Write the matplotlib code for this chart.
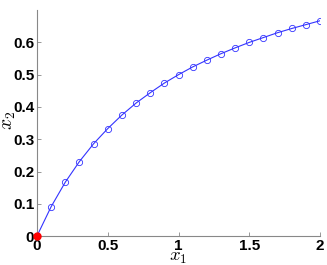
import matplotlib
matplotlib.use("Agg")
import matplotlib.pyplot as plt

plt.rcParams["mathtext.fontset"] = "cm"

x1 = [0.0, 0.1, 0.2, 0.3, 0.4, 0.5, 0.6, 0.7, 0.8, 0.9, 1.0,
      1.1, 1.2, 1.3, 1.4, 1.5, 1.6, 1.7, 1.8, 1.9, 2.0]
x2 = [0.0, 0.091, 0.167, 0.231, 0.286, 0.333, 0.375, 0.412, 0.444, 0.474, 0.500,
      0.524, 0.545, 0.565, 0.583, 0.600, 0.615, 0.630, 0.643, 0.655, 0.667]
xticks = [0, 0.5, 1, 1.5, 2]
xticklabels = ["0", "0.5", "1", "1.5", "2"]
yticks = [0, 0.1, 0.2, 0.3, 0.4, 0.5, 0.6]
yticklabels = ["0", "0.1", "0.2", "0.3", "0.4", "0.5", "0.6"]
start = (0.0, 0.0)

fig = plt.figure(figsize=(3.27, 2.65), dpi=100)
ax = fig.add_axes([0.113, 0.109, 0.866, 0.853])
ax.plot(x1, x2, color="#3333ff", lw=0.8, marker="o", ms=4.5,
        mfc="none", mec="#3333ff", mew=0.6)
ax.plot([start[0]], [start[1]], "o", color="red", ms=5, clip_on=False, zorder=5)
ax.set_xlim(0, 2)
ax.set_ylim(0, 0.70)
ax.set_xticks(xticks)
ax.set_xticklabels(xticklabels)
ax.set_yticks(yticks)
ax.set_yticklabels(yticklabels)
for s in ["top", "right"]:
    ax.spines[s].set_visible(False)
for s in ["left", "bottom"]:
    ax.spines[s].set_color("#888888")
    ax.spines[s].set_linewidth(0.8)
ax.tick_params(direction="in", length=3, width=0.6, color="#888888", pad=2)
for lab in ax.get_xticklabels() + ax.get_yticklabels():
    lab.set_fontweight("bold")
    lab.set_fontsize(11)
    lab.set_fontfamily("Liberation Sans")
fig.text(178 / 327, 1 - 256.5 / 265, r"$x_1$", fontsize=13.5, ha="center", va="center")
fig.text(8 / 327, 1 - 120 / 265, r"$x_2$", fontsize=14, ha="center", va="center",
         rotation=90)
fig.savefig("out.png", dpi=100)
